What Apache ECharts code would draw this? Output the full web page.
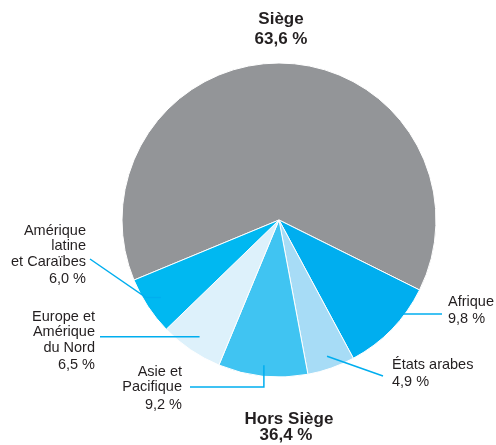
<!DOCTYPE html>
<html><head><meta charset="utf-8">
<script src="https://cdn.jsdelivr.net/npm/echarts@6/dist/echarts.min.js"></script>
<style>html,body{margin:0;padding:0;background:#fff}#c{width:496px;height:445px}</style>
</head><body><div id="c"></div>
<script>
const categories = ['Siège', 'Afrique', 'États arabes', 'Asie et Pacifique', 'Europe et Amérique du Nord', 'Amérique latine et Caraïbes'];
const values = [63.6, 9.8, 4.9, 9.2, 6.5, 6.0];
const labelNames = [[], ['Afrique'], ['États arabes'], ['Asie et', 'Pacifique'], ['Europe et', 'Amérique', 'du Nord'], ['Amérique', 'latine', 'et Caraïbes']];
const titleTop = 'Siège';
const titleBottom = 'Hors Siège';

const colors = ['#939598', '#00aeef', '#a7dcf6', '#40c4f2', '#ddf1fb', '#00b8f1'];
const TEXT = '#231f20';
const FONT = '"Liberation Sans", Arial, Helvetica, sans-serif';

const fmt = v => v.toFixed(1).replace('.', ',') + ' %';
const total = values.reduce((a, b) => a + b, 0);
const hq = values[0];
const field = total - hq;

const CX = 279, CY = 220, R = 157, START = 202.5;
const labelCfg = [null,
  { k: 0.86, x: 448, y: 294, align: 'left', path: s => [[442, s[1]]] },
  { k: 0.92, x: 392, y: 357, align: 'left', path: s => [[383, 376]] },
  { k: 0.93, x: 182, y: 364, align: 'right', path: s => [[s[0], 387], [190, 387]] },
  { k: 0.90, x: 95, y: 309, align: 'right', path: s => [[100, s[1]]] },
  { k: 0.90, x: 86, y: 223, align: 'right', path: s => [[146, s[1]], [90, 259]] }
];
const mids = []; let acc = START;
values.forEach(v => { const span = v / total * 360; mids.push(acc - span / 2); acc -= span; });

const base = {
  type: 'pie',
  center: [CX, CY],
  radius: R,
  startAngle: START,
  clockwise: true,
  avoidLabelOverlap: false,
  emphasis: { disabled: true },
  silent: true
};

const chart = echarts.init(document.getElementById('c'));
chart.setOption({
  animation: false,
  backgroundColor: '#fff',
  graphic: [
    { type: 'text', x: 281, y: 19, style: { text: titleTop, align: 'center', verticalAlign: 'middle', textAlign: 'center', textVerticalAlign: 'middle', font: 'bold 17px ' + FONT, fill: TEXT } },
    { type: 'text', x: 281, y: 39, style: { text: fmt(hq), align: 'center', verticalAlign: 'middle', textAlign: 'center', textVerticalAlign: 'middle', font: 'bold 17px ' + FONT, fill: TEXT } },
    { type: 'text', x: 289, y: 419, style: { text: titleBottom, align: 'center', verticalAlign: 'middle', textAlign: 'center', textVerticalAlign: 'middle', font: 'bold 17px ' + FONT, fill: TEXT } },
    { type: 'text', x: 286, y: 435, style: { text: fmt(field), align: 'center', verticalAlign: 'middle', textAlign: 'center', textVerticalAlign: 'middle', font: 'bold 17px ' + FONT, fill: TEXT } }
  ],
  series: [
    Object.assign({}, base, {
      z: 2,
      itemStyle: { borderColor: '#fff', borderWidth: 1 },
      label: { show: false },
      labelLine: { show: false },
      data: categories.map((c, i) => ({ name: c, value: values[i], itemStyle: { color: colors[i] } }))
    }),
    Object.assign({}, base, {
      z: 5,
      itemStyle: { color: 'rgba(0,0,0,0)', borderWidth: 0 },
      label: {
        show: true,
        position: 'outside',
        formatter: p => labelNames[p.dataIndex].map(l => '{n|' + l + '}').join('\n') + '\n{v|' + fmt(p.value) + '}',
        rich: {
          n: { fontSize: 14.5, lineHeight: 15.5, color: TEXT, fontFamily: FONT },
          v: { fontSize: 14.5, lineHeight: 19, color: TEXT, fontFamily: FONT }
        }
      },
      labelLine: { show: true, lineStyle: { color: '#00aeef', width: 1.5 } },
      labelLayout: params => {
        const cfg = labelCfg[params.dataIndex];
        if (!cfg) return {};
        const a = mids[params.dataIndex] * Math.PI / 180;
        const s = [CX + cfg.k * R * Math.cos(a), CY - cfg.k * R * Math.sin(a)];
        return { x: cfg.x, y: cfg.y, align: cfg.align, verticalAlign: 'top', labelLinePoints: [s].concat(cfg.path(s)) };
      },
      data: categories.map((c, i) => ({
        name: c, value: values[i],
        label: i === 0 ? { show: false } : undefined,
        labelLine: i === 0 ? { show: false } : undefined
      }))
    })
  ]
});
</script></body></html>
